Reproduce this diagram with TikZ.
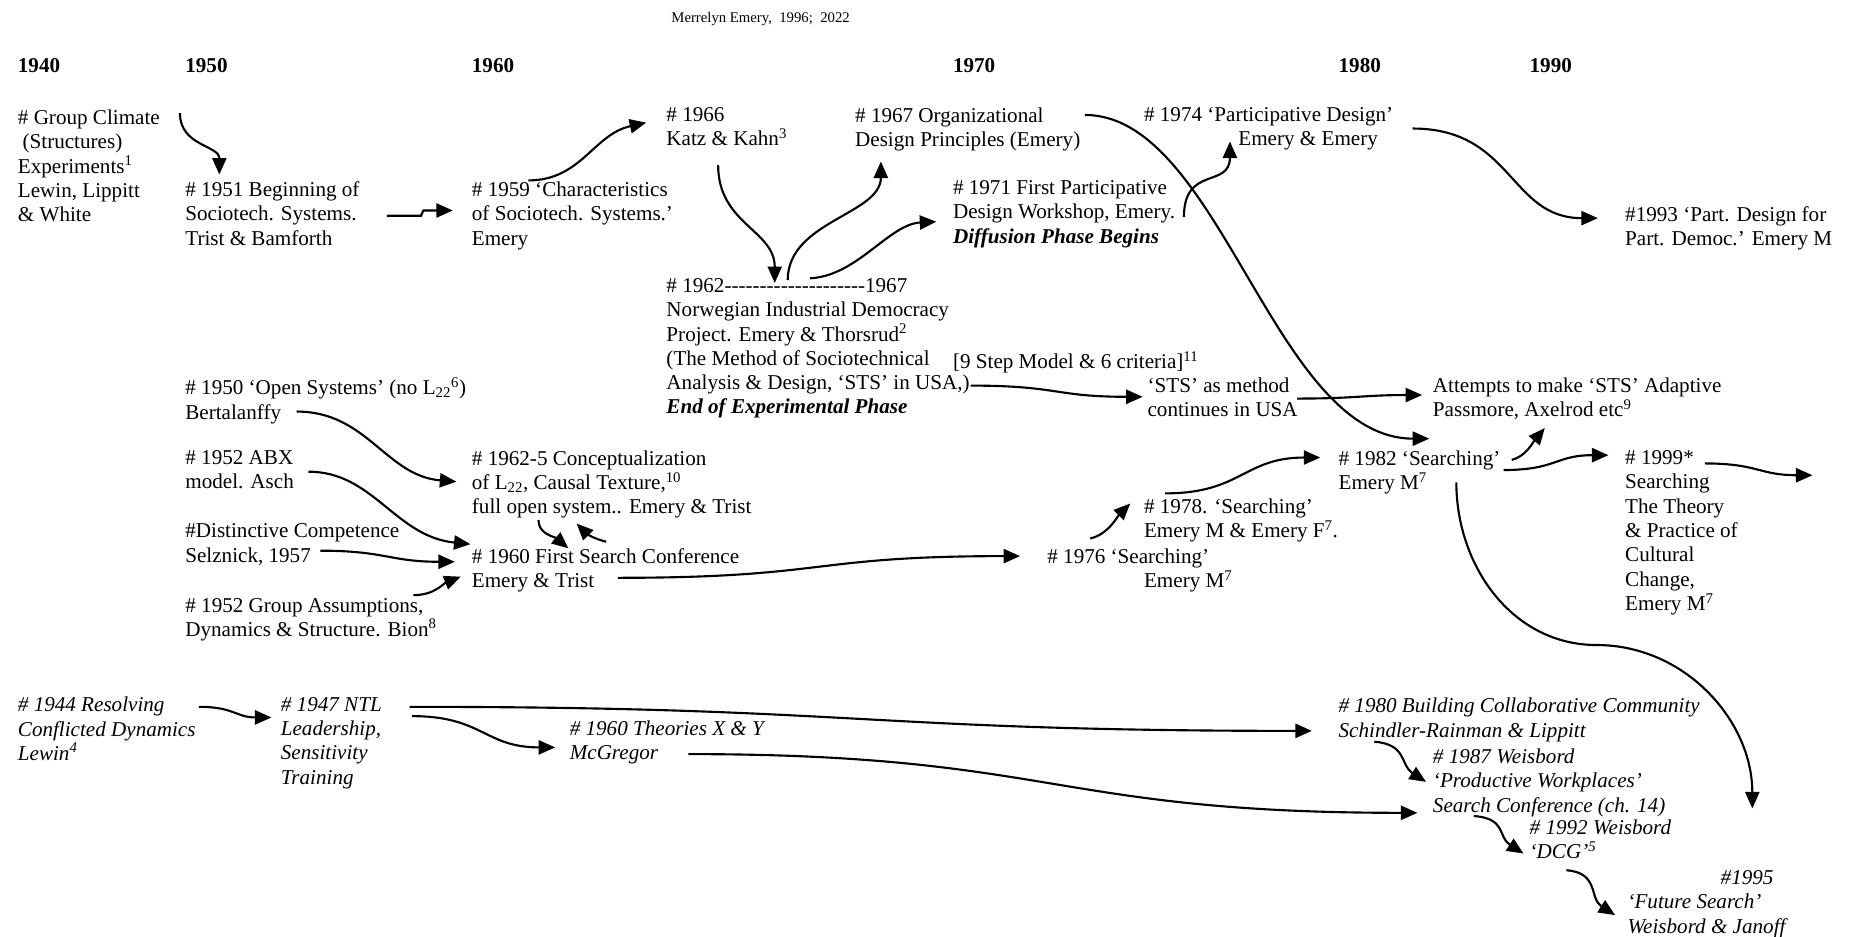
\documentclass[tikz,border=0pt]{standalone}
\usepackage{fontspec}
\setmainfont{Liberation Serif}
\usetikzlibrary{arrows.meta}
\newcommand{\evsize}{\fontsize{17.9}{20.6}\selectfont}
\tikzset{%
  link/.style = {-{Triangle[length=14pt,width=12pt]},line width=1.8pt},
  ev/.style = {anchor=north west,inner sep=0pt,align=left,font=\evsize},
  evit/.style = {ev,font=\evsize\itshape},
  decade/.style = {anchor=north west,inner sep=0pt,font=\evsize\bfseries}
}

\begin{document}
\begin{tikzpicture}[x=1pt,y=-1pt]
\useasboundingbox (0,0) rectangle (1568,794);
\node[anchor=base,inner sep=0pt,font=\fontsize{12.5}{15}\selectfont] (title) at (645,19) {Merrelyn Emery,\ \ 1996;\ \ 2022};

% decades
\node[decade] (d40) at (15,49) {1940};
\node[decade] (d50) at (157,49) {1950};
\node[decade] (d60) at (400,49) {1960};
\node[decade] (d70) at (808,49) {1970};
\node[decade] (d80) at (1135,49) {1980};
\node[decade] (d90) at (1297,49) {1990};

% events
\node[ev] (climate) at (15,93) {\# Group Climate\\\hspace*{4pt}(Structures)\\Experiments\textsuperscript{1}\\Lewin, Lippitt\\\& White};
\node[ev] (ss51) at (157,154) {\# 1951 Beginning of\\Sociotech. Systems.\\Trist \& Bamforth};
\node[ev] (ss59) at (400,154) {\# 1959 ‘Characteristics\\of Sociotech. Systems.’\\Emery};
\node[ev] (kk66) at (565,91) {\# 1966\\Katz \& Kahn\textsuperscript{3}};
\node[ev] (odp67) at (725,91) {\# 1967 Organizational\\Design Principles (Emery)};
\node[ev] (pd74) at (970,91) {\# 1974 ‘Participative Design’\\\hspace*{80pt}Emery \& Emery};
\node[ev] (pdw71) at (808,153) {\# 1971 First Participative\\Design Workshop, Emery.\\\textbf{\textit{Diffusion Phase Begins}}};
\node[ev] (pd93) at (1378,175) {\#1993 ‘Part. Design for\\Part. Democ.’ Emery M};
\node[ev] (nid) at (565,236) {\# 1962-{}-{}-{}-{}-{}-{}-{}-{}-{}-{}-{}-{}-{}-{}-{}-{}-{}-{}-{}-{}1967\\Norwegian Industrial Democracy\\Project. Emery \& Thorsrud\textsuperscript{2}\\(The Method of Sociotechnical\\Analysis \& Design, ‘STS’ in USA,)\\\textbf{\textit{End of Experimental Phase}}};
\node[ev] (crit) at (808,298) {[9 Step Model \& 6 criteria]\textsuperscript{11}};
\node[ev] (stsusa) at (973,320) {‘STS’ as method\\continues in USA};
\node[ev] (adaptive) at (1215,320) {Attempts to make ‘STS’ Adaptive\\Passmore, Axelrod etc\textsuperscript{9}};
\node[ev] (open50) at (157,320) {\# 1950 ‘Open Systems’ (no L\textsubscript{22}\textsuperscript{6})\\Bertalanffy};
\node[ev] (abx) at (157,382) {\# 1952 ABX\\model. Asch};
\node[ev] (dc57) at (157,444) {\#Distinctive Competence\\Selznick, 1957};
\node[ev] (bion) at (157,507) {\# 1952 Group Assumptions,\\Dynamics \& Structure. Bion\textsuperscript{8}};
\node[ev] (causal) at (400,382) {\# 1962-5 Conceptualization\\of L\textsubscript{22}, Causal Texture,\textsuperscript{10}\\full open system.. Emery \& Trist};
\node[ev] (sc60) at (400,465) {\# 1960 First Search Conference\\Emery \& Trist};
\node[ev] (s76) at (888,465) {\# 1976 ‘Searching’\\\hspace*{82pt}Emery M\textsuperscript{7}};
\node[ev] (s78) at (970,423) {\# 1978. ‘Searching’\\Emery M \& Emery F\textsuperscript{7}.};
\node[ev] (s82) at (1135,382) {\# 1982 ‘Searching’\\Emery M\textsuperscript{7}};
\node[ev] (s99) at (1378,382) {\# 1999*\\Searching\\The Theory\\\& Practice of\\Cultural\\Change,\\Emery M\textsuperscript{7}};
\coordinate (onward) at (1537,403);

% italic row
\node[evit] (lewin44) at (15,591) {\# 1944 Resolving\\Conflicted Dynamics\\Lewin\textsuperscript{4}};
\node[evit] (ntl47) at (238,591) {\# 1947 NTL\\Leadership,\\Sensitivity\\Training};
\node[evit] (xy60) at (483,611) {\# 1960 Theories X \& Y\\McGregor};
\node[evit] (bcc80) at (1135,592) {\# 1980 Building Collaborative Community\\Schindler-Rainman \& Lippitt};
\node[evit] (pw87) at (1215,635) {\# 1987 Weisbord\\‘Productive Workplaces’\\Search Conference (ch. 14)};
\node[evit] (dcg92) at (1297,695) {\# 1992 Weisbord\\‘DCG’\textsuperscript{5}};
\node[evit] (fs95) at (1380,738) {\hspace*{79pt}\#1995\\‘Future Search’\\Weisbord \& Janoff};

% links
\draw[link] ([shift={(137.6,3)}]climate.north west) .. controls +(0,28) and +(0,-25) .. ([shift={(29,-6)}]ss51.north west);
\draw[link] ([shift={(171,29)}]ss51.north west) -- ++(29,0) -- ++(2,-4.5) -- ([shift={(-16,24.5)}]ss59.north west);
\draw[link] ([shift={(48,-1)}]ss59.north west) .. controls +(45,0) and +(-45,10) .. ([shift={(-17,13)}]kk66.north west);
\draw[link] ([shift={(44,49)}]kk66.north west) .. controls +(0,50) and +(0,-45) .. ([shift={(92,4)}]nid.north west);
\draw[link] ([shift={(103,1.5)}]nid.north west) .. controls +(0,-50) and +(0,45) .. ([shift={(22,46)}]odp67.north west);
\draw[link] ([shift={(122,0)}]nid.north west) .. controls +(40,-2) and +(-40,2) .. ([shift={(-14,35)}]pdw71.north west);
\draw[link] ([shift={(195,6.5)}]odp67.north west) .. controls +(115,0) and +(-132,0) .. ([shift={(77,-10)}]s82.north west);
\draw[link] ([shift={(196,31)}]pdw71.north west) .. controls +(0,-44) and +(0,40) .. ([shift={(73,29)}]pd74.north west);
\draw[link] ([shift={(228,18)}]pd74.north west) .. controls +(85,0) and +(-75,0) .. ([shift={(-23,10)}]pd93.north west);
\draw[link] ([shift={(258,91)}]nid.north west) .. controls +(75,0) and +(-75,0) .. ([shift={(-4,16.5)}]stsusa.north west);
\draw[link] ([shift={(127,18)}]stsusa.north west) .. controls +(50,0) and +(-50,0) .. ([shift={(-9,15)}]adaptive.north west);
\draw[link] ([shift={(147,8)}]s82.north west) .. controls +(12,-3) and +(-10,12) .. ([shift={(95,43)}]adaptive.north west);
\draw[link] ([shift={(140,16.6)}]s82.north west) .. controls +(45,0) and +(-45,0) .. ([shift={(-14,4)}]s99.north west);
\draw[link] ([shift={(67.7,11)}]s99.north west) .. controls +(45,0) and +(-45,0) .. (onward);
\draw[link] ([shift={(100,27)}]s82.north west) to[out=-90,in=180] ++(119,138) to[out=0,in=90] ([shift={(106,-52.4)}]fs95.north west);
\draw[link] ([shift={(94.5,29)}]open50.north west) .. controls +(60,0) and +(-60,-5) .. ([shift={(-13,26.5)}]causal.north west);
\draw[link] ([shift={(104.6,18)}]abx.north west) .. controls +(55,0) and +(-64,-6.5) .. ([shift={(-1,-3.5)}]sc60.north west);
\draw[link] ([shift={(114.7,23)}]dc57.north west) .. controls +(55,0) and +(-55,0) .. ([shift={(-14.3,11.4)}]sc60.north west);
\draw[link] ([shift={(193.5,-2.3)}]bion.north west) .. controls +(18,0) and +(-15,6) .. ([shift={(-9.3,24)}]sc60.north west);
\draw[link] ([shift={(56.6,59)}]causal.north west) .. controls +(0,12) and +(-12,-10) .. ([shift={(82,0)}]sc60.north west);
\draw[link] ([shift={(114,-5.6)}]sc60.north west) .. controls +(-12,-3) and +(8,8) .. ([shift={(89,62)}]causal.north west);
\draw[link] ([shift={(124,25)}]sc60.north west) .. controls +(180,0) and +(-180,0) .. ([shift={(-23,6.6)}]s76.north west);
\draw[link] ([shift={(36.5,-8.4)}]s76.north west) .. controls +(15,-3) and +(-10,10) .. ([shift={(-11.6,4)}]s78.north west);
\draw[link] ([shift={(18,-4.6)}]s78.north west) .. controls +(65,0) and +(-65,0) .. ([shift={(-15.4,6)}]s82.north west);
\draw[link] ([shift={(153.6,8.4)}]lewin44.north west) .. controls +(30,0) and +(-30,0) .. ([shift={(-7.8,17.4)}]ntl47.north west);
\draw[link] ([shift={(109.4,8.4)}]ntl47.north west) .. controls +(380,0) and +(-380,0) .. ([shift={(-22.5,27.8)}]bcc80.north west);
\draw[link] ([shift={(111.5,16.3)}]ntl47.north west) .. controls +(60,0) and +(-60,0) .. ([shift={(-12.2,22.8)}]xy60.north west);
\draw[link] ([shift={(100.8,28.5)}]xy60.north west) .. controls +(310,0) and +(-310,0) .. ([shift={(-13,54.3)}]pw87.north west);
\draw[link] ([shift={(30.4,37)}]bcc80.north west) .. controls +(28,2) and +(-22,-14) .. ([shift={(-5.7,28)}]pw87.north west);
\draw[link] ([shift={(34.8,57)}]pw87.north west) .. controls +(28,2) and +(-22,-14) .. ([shift={(-5,28.8)}]dcg92.north west);
\draw[link] ([shift={(31.3,43)}]dcg92.north west) .. controls +(28,2) and +(-22,-14) .. ([shift={(-10.4,38)}]fs95.north west);
\end{tikzpicture}
\end{document}
